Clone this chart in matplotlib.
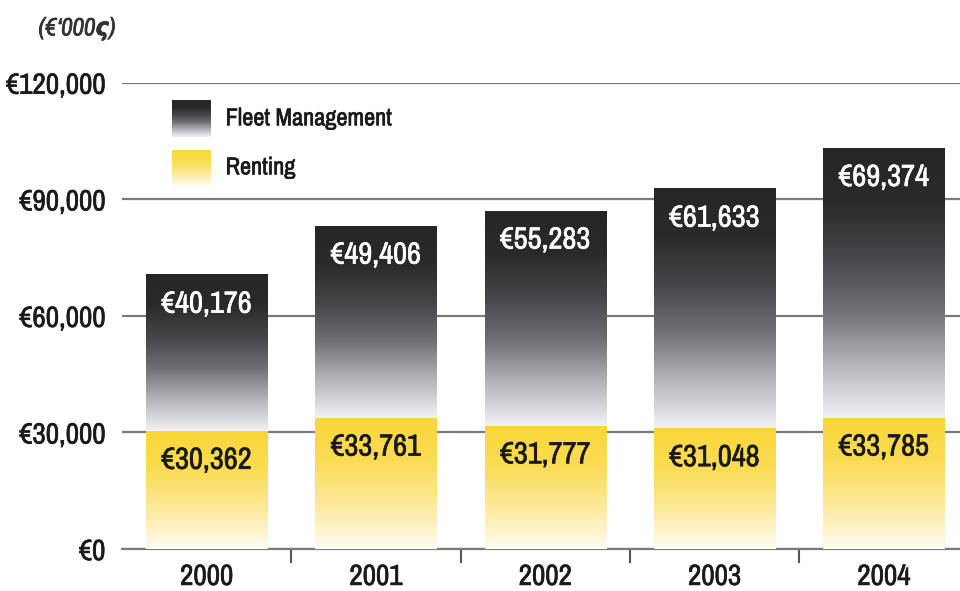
import numpy as np
import matplotlib.pyplot as plt
import matplotlib.patheffects as pe
from matplotlib import font_manager
from matplotlib.colors import LinearSegmentedColormap

years = ["2000", "2001", "2002", "2003", "2004"]
renting = [30362, 33761, 31777, 31048, 33785]
fleet = [40176, 49406, 55283, 61633, 69374]
y_ticks = [0, 30000, 60000, 90000, 120000]

# look for a narrow / condensed face, the original uses one
narrow = []
for f in font_manager.fontManager.ttflist:
    st = str(f.stretch)
    if "Narrow" in f.name or "Condensed" in f.name or st in ("condensed", "semi-condensed", "extra-condensed", "75", "87"):
        narrow.append((f.name, st))
narrow.sort(key=lambda t: ("Narrow" not in t[0], t[0]))
if narrow:
    FONT = narrow[0][0]
    plt.rcParams["font.stretch"] = "condensed"
    SCALE = 1.0
else:
    FONT = "DejaVu Sans"
    SCALE = 0.8
plt.rcParams["font.family"] = [FONT, "DejaVu Sans"]


def heavy(color):
    # thicken the strokes a little, the original face is heavier
    return [pe.withStroke(linewidth=0.45, foreground=color)]


fleet_cmap = LinearSegmentedColormap.from_list(
    "fleet", ["#f2f2f6", "#b4b5b9", "#6f7074", "#454649", "#2a2a2c", "#262628"])
rent_cmap = LinearSegmentedColormap.from_list(
    "rent", ["#fffcf2", "#fde99c", "#fbdd55", "#f9d638"])

fig = plt.figure(figsize=(9.6, 5.91), dpi=100)
ax = fig.add_axes([0.127, 0.071, 0.873, 0.789])

x = np.arange(len(years))
width = 0.715
grad = np.linspace(0, 1, 256).reshape(-1, 1)


def gradient_bars(bars, cmap):
    for b in bars:
        x0, y0 = b.get_x(), b.get_y()
        ax.imshow(grad, cmap=cmap, origin="lower", aspect="auto",
                  extent=(x0, x0 + b.get_width(), y0, y0 + b.get_height()),
                  zorder=3)


rent_bars = ax.bar(x, renting, width, color="none", zorder=3)
fleet_bars = ax.bar(x, fleet, width, bottom=renting, color="none", zorder=3)
gradient_bars(rent_bars, rent_cmap)
gradient_bars(fleet_bars, fleet_cmap)

for i in range(len(years)):
    ax.text(x[i], renting[i] - 7400, "€{:,}".format(renting[i]),
            ha="center", va="center", fontsize=22 * SCALE, color="#1a1a1a",
            zorder=5, path_effects=heavy("#1a1a1a"))
    ax.text(x[i], renting[i] + fleet[i] - 7400, "€{:,}".format(fleet[i]),
            ha="center", va="center", fontsize=22 * SCALE, color="white",
            zorder=5, path_effects=heavy("white"))

ax.set_xlim(-0.5, 4.45)
ax.set_ylim(0, 120000)
ax.set_yticks(y_ticks)
ax.set_yticklabels(["€{:,}".format(v) for v in y_ticks], fontsize=21 * SCALE)
ax.set_xticks(x)
ax.set_xticklabels(years, fontsize=21 * SCALE)
ax.set_xticks(x[:-1] + 0.5, minor=True)
ax.tick_params(axis="y", length=0, pad=12, colors="#1a1a1a")
ax.tick_params(axis="x", which="major", length=0, pad=10, colors="#1a1a1a")
ax.tick_params(axis="x", which="minor", length=10, width=1.5, color="#555555")
for lab in ax.get_xticklabels() + ax.get_yticklabels():
    lab.set_path_effects(heavy("#1a1a1a"))
ax.grid(axis="y", color="#7a7a7a", linewidth=1.6, zorder=1)
ax.set_axisbelow(True)
for s in ["top", "right", "left"]:
    ax.spines[s].set_visible(False)
ax.spines["bottom"].set_color("#7a7a7a")
ax.spines["bottom"].set_linewidth(1.6)

# legend with gradient swatches
for ly, cmap, label in [(0.799, fleet_cmap, "Fleet Management"),
                        (0.716, rent_cmap, "Renting")]:
    sw = fig.add_axes([0.179, ly - 0.031, 0.04, 0.062])
    sw.imshow(grad, cmap=cmap, origin="lower", aspect="auto")
    sw.axis("off")
    fig.text(0.235, ly, label, fontsize=17.5 * SCALE, va="center",
             color="#1a1a1a", path_effects=heavy("#1a1a1a"))

fig.text(0.04, 0.952, "(€‘000ς)", fontsize=18 * SCALE, style="italic",
         fontweight="bold", color="#333333", va="center",
         path_effects=heavy("#333333"))

fig.savefig("out.png", dpi=100)
